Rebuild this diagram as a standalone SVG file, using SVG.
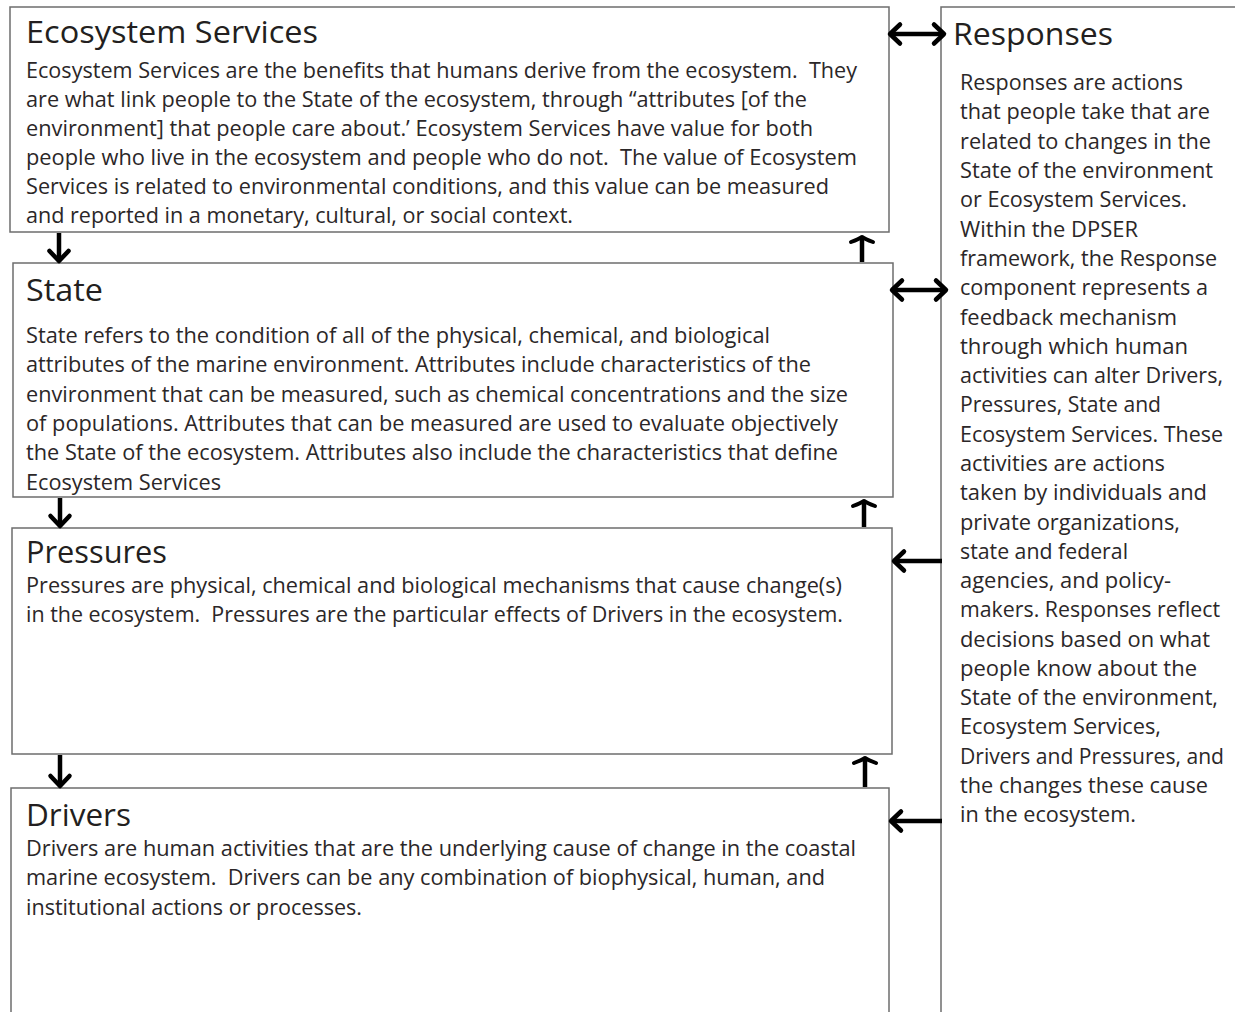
<svg xmlns="http://www.w3.org/2000/svg" width="1235" height="1012" viewBox="0 0 1235 1012">
<style>
.box{fill:#fff;stroke:#6d6d6d;stroke-width:1.5}
.t{font-family:"Open Sans","Liberation Sans",sans-serif;font-size:31px;fill:#231f20}
.b{font-family:"Open Sans","Liberation Sans",sans-serif;font-size:21px;fill:#2b2728}
.c{stroke:#000;stroke-width:4.5;fill:none}
</style>
<defs>
<marker id="h" markerUnits="userSpaceOnUse" viewBox="-4 -14 18 28" refX="10" refY="0" markerWidth="18" markerHeight="28" orient="auto-start-reverse">
<path d="M0,-9.5 L10,0 L0,9.5" fill="none" stroke="#000" stroke-width="4.5" stroke-linecap="round" stroke-linejoin="round"/>
</marker>
<marker id="f" markerUnits="userSpaceOnUse" viewBox="-4 -15 13 30" refX="5" refY="0" markerWidth="13" markerHeight="30" orient="auto">
<path d="M0,-11 Q3,-3 5,0 Q3,3 0,11" fill="none" stroke="#000" stroke-width="4" stroke-linecap="round" stroke-linejoin="round"/>
</marker>
</defs>
<rect width="1235" height="1012" fill="#fff"/>

<g id="responses">
<path class="box" d="M941,1014 V7 H1237"/>
<text class="t" x="953" y="45" textLength="160" lengthAdjust="spacingAndGlyphs">Responses</text>
<g class="b">
<text x="960" y="90" textLength="223" lengthAdjust="spacingAndGlyphs">Responses are actions</text>
<text x="960" y="119" textLength="250" lengthAdjust="spacingAndGlyphs">that people take that are</text>
<text x="960" y="149" textLength="251" lengthAdjust="spacingAndGlyphs">related to changes in the</text>
<text x="960" y="178" textLength="253" lengthAdjust="spacingAndGlyphs">State of the environment</text>
<text x="960" y="207" textLength="227" lengthAdjust="spacingAndGlyphs">or Ecosystem Services.</text>
<text x="960" y="237" textLength="178" lengthAdjust="spacingAndGlyphs">Within the DPSER</text>
<text x="960" y="266" textLength="257" lengthAdjust="spacingAndGlyphs">framework, the Response</text>
<text x="960" y="295" textLength="248" lengthAdjust="spacingAndGlyphs">component represents a</text>
<text x="960" y="325" textLength="217" lengthAdjust="spacingAndGlyphs">feedback mechanism</text>
<text x="960" y="354" textLength="228" lengthAdjust="spacingAndGlyphs">through which human</text>
<text x="960" y="383" textLength="263" lengthAdjust="spacingAndGlyphs">activities can alter Drivers,</text>
<text x="960" y="412" textLength="201" lengthAdjust="spacingAndGlyphs">Pressures, State and</text>
<text x="960" y="442" textLength="263" lengthAdjust="spacingAndGlyphs">Ecosystem Services. These</text>
<text x="960" y="471" textLength="205" lengthAdjust="spacingAndGlyphs">activities are actions</text>
<text x="960" y="500" textLength="247" lengthAdjust="spacingAndGlyphs">taken by individuals and</text>
<text x="960" y="530" textLength="220" lengthAdjust="spacingAndGlyphs">private organizations,</text>
<text x="960" y="559" textLength="168" lengthAdjust="spacingAndGlyphs">state and federal</text>
<text x="960" y="588" textLength="211" lengthAdjust="spacingAndGlyphs">agencies, and policy-</text>
<text x="960" y="617" textLength="260" lengthAdjust="spacingAndGlyphs">makers. Responses reflect</text>
<text x="960" y="647" textLength="250" lengthAdjust="spacingAndGlyphs">decisions based on what</text>
<text x="960" y="676" textLength="237" lengthAdjust="spacingAndGlyphs">people know about the</text>
<text x="960" y="705" textLength="258" lengthAdjust="spacingAndGlyphs">State of the environment,</text>
<text x="960" y="734" textLength="201" lengthAdjust="spacingAndGlyphs">Ecosystem Services,</text>
<text x="960" y="764" textLength="264" lengthAdjust="spacingAndGlyphs">Drivers and Pressures, and</text>
<text x="960" y="793" textLength="248" lengthAdjust="spacingAndGlyphs">the changes these cause</text>
<text x="960" y="822" textLength="176" lengthAdjust="spacingAndGlyphs">in the ecosystem.</text>
</g>
</g>

<g id="ecosystem-services">
<rect class="box" x="10" y="7" width="879" height="225"/>
<text class="t" x="26" y="43" textLength="292" lengthAdjust="spacingAndGlyphs">Ecosystem Services</text>
<g class="b">
<text x="26" y="78" textLength="831" lengthAdjust="spacingAndGlyphs" xml:space="preserve">Ecosystem Services are the benefits that humans derive from the ecosystem.  They</text>
<text x="26" y="107" textLength="781" lengthAdjust="spacingAndGlyphs">are what link people to the State of the ecosystem, through “attributes [of the</text>
<text x="26" y="136" textLength="787" lengthAdjust="spacingAndGlyphs">environment] that people care about.’ Ecosystem Services have value for both</text>
<text x="26" y="165" textLength="831" lengthAdjust="spacingAndGlyphs" xml:space="preserve">people who live in the ecosystem and people who do not.  The value of Ecosystem</text>
<text x="26" y="194" textLength="803" lengthAdjust="spacingAndGlyphs">Services is related to environmental conditions, and this value can be measured</text>
<text x="26" y="223" textLength="547" lengthAdjust="spacingAndGlyphs">and reported in a monetary, cultural, or social context.</text>
</g>
</g>

<g id="state">
<rect class="box" x="13" y="263" width="880" height="234"/>
<text class="t" x="26" y="301" textLength="77" lengthAdjust="spacingAndGlyphs">State</text>
<g class="b">
<text x="26" y="343" textLength="744" lengthAdjust="spacingAndGlyphs">State refers to the condition of all of the physical, chemical, and biological</text>
<text x="26" y="372" textLength="785" lengthAdjust="spacingAndGlyphs">attributes of the marine environment. Attributes include characteristics of the</text>
<text x="26" y="402" textLength="822" lengthAdjust="spacingAndGlyphs">environment that can be measured, such as chemical concentrations and the size</text>
<text x="26" y="431" textLength="812" lengthAdjust="spacingAndGlyphs">of populations. Attributes that can be measured are used to evaluate objectively</text>
<text x="26" y="460" textLength="812" lengthAdjust="spacingAndGlyphs">the State of the ecosystem. Attributes also include the characteristics that define</text>
<text x="26" y="490" textLength="195" lengthAdjust="spacingAndGlyphs">Ecosystem Services</text>
</g>
</g>

<g id="pressures">
<rect class="box" x="12" y="528" width="880" height="226"/>
<text class="t" x="26" y="563" textLength="141" lengthAdjust="spacingAndGlyphs">Pressures</text>
<g class="b">
<text x="26" y="593" textLength="816" lengthAdjust="spacingAndGlyphs">Pressures are physical, chemical and biological mechanisms that cause change(s)</text>
<text x="26" y="622" textLength="817" lengthAdjust="spacingAndGlyphs" xml:space="preserve">in the ecosystem.  Pressures are the particular effects of Drivers in the ecosystem.</text>
</g>
</g>

<g id="drivers">
<path class="box" d="M11,1014 V788 H889 V1014"/>
<text class="t" x="26" y="826" textLength="105" lengthAdjust="spacingAndGlyphs">Drivers</text>
<g class="b">
<text x="26" y="856" textLength="830" lengthAdjust="spacingAndGlyphs">Drivers are human activities that are the underlying cause of change in the coastal</text>
<text x="26" y="885" textLength="799" lengthAdjust="spacingAndGlyphs" xml:space="preserve">marine ecosystem.  Drivers can be any combination of biophysical, human, and</text>
<text x="26" y="915" textLength="336" lengthAdjust="spacingAndGlyphs">institutional actions or processes.</text>
</g>
</g>

<g id="connectors">
<line class="c" x1="59" y1="233" x2="59" y2="261" marker-end="url(#h)"/>
<line class="c" x1="60" y1="498" x2="60" y2="526" marker-end="url(#h)"/>
<line class="c" x1="60" y1="755" x2="60" y2="786" marker-end="url(#h)"/>
<line class="c" x1="862" y1="262" x2="862" y2="237" marker-end="url(#f)"/>
<line class="c" x1="864" y1="527" x2="864" y2="501" marker-end="url(#f)"/>
<line class="c" x1="865" y1="787" x2="865" y2="758" marker-end="url(#f)"/>
<line class="c" x1="890" y1="34" x2="944" y2="34" marker-start="url(#h)" marker-end="url(#h)"/>
<line class="c" x1="892" y1="290" x2="946" y2="290" marker-start="url(#h)" marker-end="url(#h)"/>
<line class="c" x1="942" y1="561" x2="894" y2="561" marker-end="url(#h)"/>
<line class="c" x1="942" y1="821" x2="891" y2="821" marker-end="url(#h)"/>
</g>
</svg>
